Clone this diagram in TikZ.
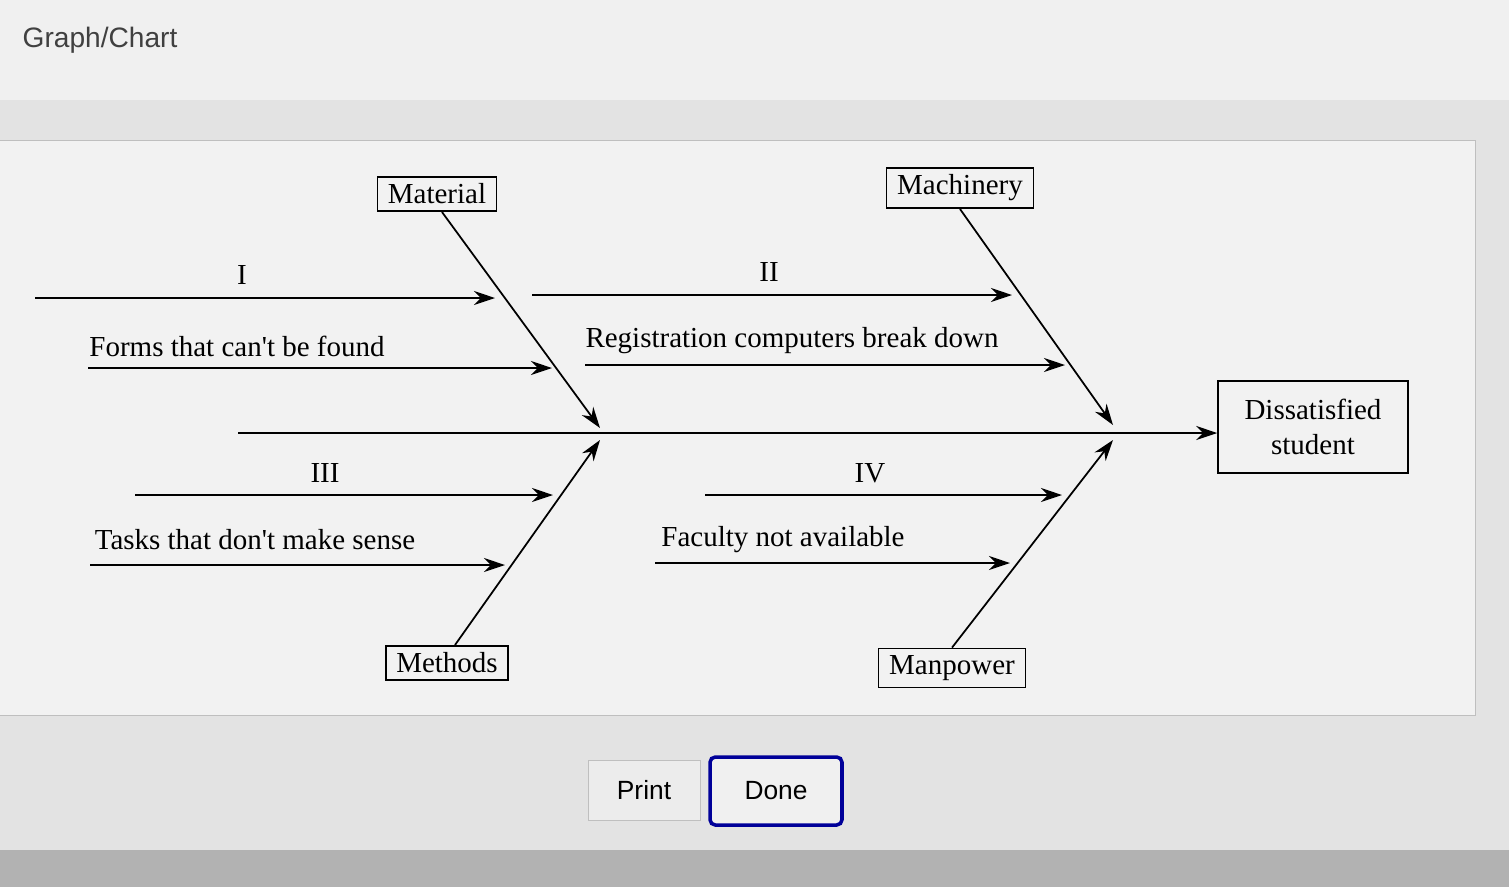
\documentclass[tikz,border=0pt]{standalone}
\usepackage{fontspec}
\setmainfont{Liberation Serif}
\newfontfamily\uisans{Liberation Sans}
\usetikzlibrary{arrows.meta}
\begin{document}
\begin{tikzpicture}[x=0.02cm,y=-0.02cm,
  lab/.style={font=\fontsize{16.5}{20}\selectfont},
  cat/.style={draw,line width=0.9pt,font=\fontsize{16.5}{20}\selectfont,inner xsep=6pt,inner ysep=4pt},
  arr/.style={line width=1pt,-{Stealth[length=12pt,width=8pt]}},
  bone/.style={line width=1pt,-{Stealth[length=12pt,width=8pt]}}]
\useasboundingbox (0,0) rectangle (1509,887);
\fill[gray!22] (0,0) rectangle (1509,887);
\fill[gray!12] (0,0) rectangle (1509,100);
\fill[gray!10] (0,140) rectangle (1475,715);
\draw[gray!50] (0,140) -- (1475,140) -- (1475,715) -- (0,715);
\fill[gray!60] (0,850) rectangle (1509,887);
\node[font=\uisans\fontsize{16}{18}\selectfont,text=black!75] (title) at (100,40) {Graph/Chart};
% category boxes
\node[cat] (mat) at (437,194) {Material};
\node[cat] (mach) at (960,188) {Machinery};
\node[cat] (meth) at (447,663) {Methods};
\node[cat] (man) at (952,668) {Manpower};
\node[cat,align=center,minimum width=3.8cm,minimum height=1.85cm] (eff) at (1313,427) {Dissatisfied\\student};
% spine
\coordinate (s0) at (238,433);
\draw[arr] (s0) -- (s0 -| eff.west);
\coordinate (j1) at (600,428);
\coordinate (j2) at (1113,425);
\coordinate (j3) at (600,440);
\coordinate (j4) at (1113,440);
\draw[bone] (mat.south) ++(5,0) -- (j1);
\draw[bone] (mach.south) -- (j2);
\draw[bone] (meth.north) ++(8,0) -- (j3);
\draw[bone] (man.north) -- (j4);
% sub causes
\coordinate (a1) at (35,298); \coordinate (b1) at (495,298);
\draw[arr] (a1) -- (b1); \node[lab] (l1) at (242,275) {I};
\coordinate (a2) at (88,368); \coordinate (b2) at (552,368);
\draw[arr] (a2) -- (b2); \node[lab] (l2) at (237,346) {Forms that can\textquotesingle t be found};
\coordinate (a3) at (532,295); \coordinate (b3) at (1012,295);
\draw[arr] (a3) -- (b3); \node[lab] (l3) at (769,272) {II};
\coordinate (a4) at (585,365); \coordinate (b4) at (1065,365);
\draw[arr] (a4) -- (b4); \node[lab] (l4) at (792,341) {Registration computers break down};
\coordinate (a5) at (135,495); \coordinate (b5) at (553,495);
\draw[arr] (a5) -- (b5); \node[lab] (l5) at (325,473) {III};
\coordinate (a6) at (90,565); \coordinate (b6) at (505,565);
\draw[arr] (a6) -- (b6); \node[lab] (l6) at (255,540) {Tasks that don\textquotesingle t make sense};
\coordinate (a7) at (705,495); \coordinate (b7) at (1062,495);
\draw[arr] (a7) -- (b7); \node[lab] (l7) at (870,473) {IV};
\coordinate (a8) at (655,563); \coordinate (b8) at (1010,563);
\draw[arr] (a8) -- (b8); \node[lab] (l8) at (783,540) {Faculty not available};
% buttons
\node[draw=gray!50,fill=gray!15,minimum width=2.24cm,minimum height=1.2cm,font=\uisans\fontsize{15}{18}\selectfont] (print) at (644,790) {Print};
\node[draw=blue!60!black,line width=2pt,rounded corners=3pt,fill=gray!12,minimum width=2.64cm,minimum height=1.36cm,font=\uisans\fontsize{15}{18}\selectfont] (done) at (776,791) {Done};
\end{tikzpicture}
\end{document}
